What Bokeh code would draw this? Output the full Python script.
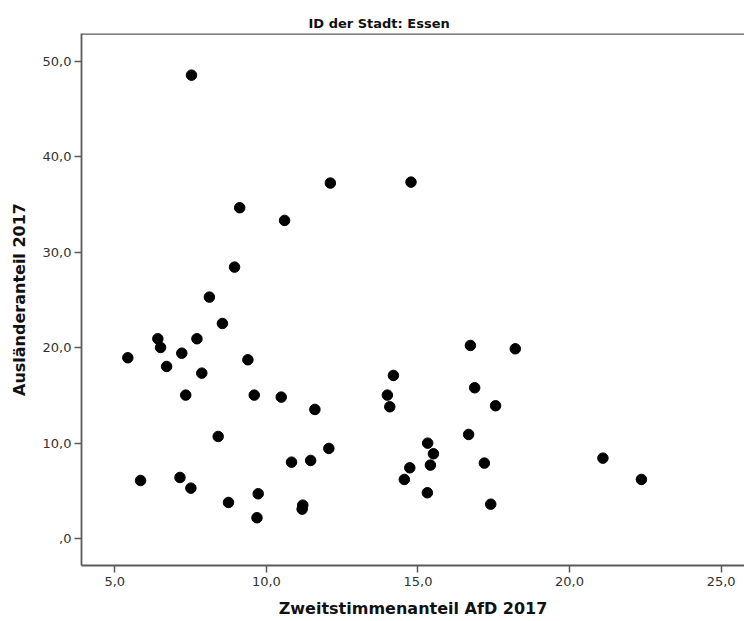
from bokeh.plotting import figure
from bokeh.models import Span, FixedTicker, CustomJSTickFormatter, Range1d
from bokeh.embed import file_html
from bokeh.resources import INLINE

title_text = "ID der Stadt: Essen"
x_label = "Zweitstimmenanteil AfD 2017"
y_label = "Ausländeranteil 2017"
x_ticks = [5, 10, 15, 20, 25]
y_ticks = [0, 10, 20, 30, 40, 50]

afd = [7.53, 12.11, 14.77, 9.12, 10.60, 8.95, 8.12, 8.55, 6.42, 6.51,
       7.71, 5.43, 7.21, 6.71, 7.87, 9.39, 7.34, 9.60, 10.49, 11.60,
       8.41, 12.06, 10.83, 11.46, 5.85, 7.15, 7.51, 8.75, 9.73, 9.69,
       11.20, 11.18, 16.73, 18.21, 14.19, 13.99, 14.07, 16.87, 17.56, 16.67,
       15.32, 15.51, 15.41, 14.73, 14.55, 15.31, 17.19, 17.40, 21.10, 22.37]
auslaender = [48.54, 37.24, 37.34, 34.66, 33.33, 28.44, 25.30, 22.54, 20.94, 20.03,
              20.94, 18.95, 19.43, 18.04, 17.34, 18.74, 15.04, 15.04, 14.83, 13.54,
              10.71, 9.46, 8.02, 8.20, 6.10, 6.42, 5.30, 3.80, 4.71, 2.20,
              3.52, 3.10, 20.24, 19.89, 17.10, 15.04, 13.82, 15.81, 13.93, 10.92,
              10.01, 8.90, 7.71, 7.43, 6.21, 4.82, 7.92, 3.62, 8.44, 6.21]

FONT = "DejaVu Sans"
AXIS_COLOR = "#5a5a5a"
TEXT_COLOR = "#333333"

y_rng = Range1d(-2.80, 52.90)
p = figure(width=744, height=621, output_backend="svg", toolbar_location=None,
           x_range=Range1d(3.902, 25.77), y_range=y_rng,
           x_axis_label=x_label, y_axis_label=y_label,
           min_border_left=81, min_border_right=0, min_border_top=33, min_border_bottom=56,
           outline_line_color=None)

p.title.text = title_text
p.title.align = "left"
p.title.offset = 227
p.title.text_font = FONT
p.title.text_font_size = "13px"
p.title.text_font_style = "bold"
p.title.text_color = "#111111"
p.title.standoff = 5

p.grid.visible = False
p.background_fill_color = "white"
p.border_fill_color = "white"

fmt = CustomJSTickFormatter(code="""
var s = tick.toFixed(1).replace('.', ',');
if (s.startsWith('0')) { s = s.slice(1); }
return s;
""")

for ax, ticks in ((p.xaxis[0], x_ticks), (p.yaxis[0], y_ticks)):
    ax.ticker = FixedTicker(ticks=ticks)
    ax.formatter = fmt
    ax.axis_line_color = AXIS_COLOR
    ax.axis_line_width = 1.8
    ax.major_tick_line_color = AXIS_COLOR
    ax.major_tick_line_width = 1.5
    ax.major_tick_out = 7
    ax.major_tick_in = 0
    ax.minor_tick_line_color = None
    ax.major_label_text_font = FONT
    ax.major_label_text_font_size = "13px"
    ax.major_label_text_color = TEXT_COLOR
    ax.axis_label_text_font = FONT
    ax.axis_label_text_font_size = "16px"
    ax.axis_label_text_font_style = "bold"
    ax.axis_label_text_color = "#111111"

p.xaxis[0].major_label_standoff = 4
p.xaxis[0].axis_label_standoff = 10
p.yaxis[0].major_label_standoff = 3
p.yaxis[0].axis_label_standoff = 11

# top edge of the frame box
p.add_layout(Span(location=y_rng.end, dimension="width",
                  line_color=AXIS_COLOR, line_width=2.5))

p.scatter(afd, auslaender, size=10.5, marker="circle",
          fill_color="black", line_color="black")

open("out.html", "w").write(file_html(p, INLINE))
